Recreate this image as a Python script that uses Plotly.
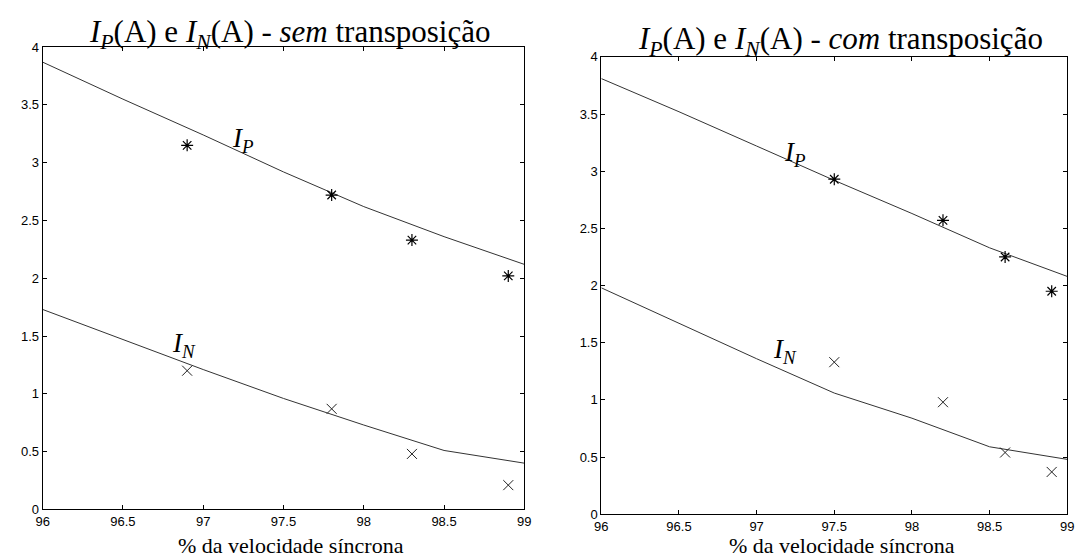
import plotly.graph_objects as go

# ---- data ----
x_line = [96, 96.5, 97, 97.5, 98, 98.5, 99]
left_ip_line = [3.87, 3.55, 3.24, 2.92, 2.62, 2.36, 2.12]
left_in_line = [1.73, 1.47, 1.21, 0.96, 0.73, 0.51, 0.40]
left_marks_x = [96.9, 97.8, 98.3, 98.9]
left_ip_marks = [3.15, 2.72, 2.33, 2.02]
left_in_marks = [1.20, 0.87, 0.48, 0.21]

right_ip_line = [3.81, 3.52, 3.22, 2.92, 2.63, 2.33, 2.08]
right_in_line = [1.98, 1.67, 1.36, 1.06, 0.84, 0.59, 0.48]
right_marks_x = [97.5, 98.2, 98.6, 98.9]
right_ip_marks = [2.93, 2.57, 2.25, 1.95]
right_in_marks = [1.33, 0.98, 0.54, 0.37]

x_ticks = [96, 96.5, 97, 97.5, 98, 98.5, 99]
x_tick_text = ["96", "96.5", "97", "97.5", "98", "98.5", "99"]
y_ticks = [0, 0.5, 1, 1.5, 2, 2.5, 3, 3.5, 4]
y_tick_text = ["0", "0.5", "1", "1.5", "2", "2.5", "3", "3.5", "4"]

titles = ["<i>I<sub>P</sub></i>(A) e <i>I<sub>N</sub></i>(A) - <i>sem</i> transposição",
          "<i>I<sub>P</sub></i>(A) e <i>I<sub>N</sub></i>(A) - <i>com</i> transposição"]
xlabel = "% da velocidade síncrona"

W, H = 1084, 560
SERIF = "Liberation Serif, Times New Roman, serif"
SANS = "Liberation Sans, Arial, sans-serif"
LINE_COL = "#333333"

fig = go.Figure()

panels = [
    dict(xa="x", ya="y", ip_line=left_ip_line, in_line=left_in_line, mx=left_marks_x,
         ip_m=left_ip_marks, in_m=left_in_marks),
    dict(xa="x2", ya="y2", ip_line=right_ip_line, in_line=right_in_line, mx=right_marks_x,
         ip_m=right_ip_marks, in_m=right_in_marks),
]

for p in panels:
    fig.add_trace(go.Scatter(x=x_line, y=p["ip_line"], mode="lines", xaxis=p["xa"], yaxis=p["ya"],
                             line=dict(color=LINE_COL, width=1), showlegend=False, hoverinfo="skip"))
    fig.add_trace(go.Scatter(x=x_line, y=p["in_line"], mode="lines", xaxis=p["xa"], yaxis=p["ya"],
                             line=dict(color=LINE_COL, width=1), showlegend=False, hoverinfo="skip"))
    fig.add_trace(go.Scatter(x=p["mx"], y=p["ip_m"], mode="markers", xaxis=p["xa"], yaxis=p["ya"],
                             marker=dict(symbol="asterisk-open", size=10, color="black",
                                         line=dict(color="black", width=1.2)),
                             showlegend=False))
    fig.add_trace(go.Scatter(x=p["mx"], y=p["in_m"], mode="markers", xaxis=p["xa"], yaxis=p["ya"],
                             marker=dict(symbol="x-thin-open", size=10, color="#222222",
                                         line=dict(color="#222222", width=1)),
                             showlegend=False))

# domains (pixel-based)
L = dict(x0=28, x1=516, y0=33, y1=508)
R = dict(x0=594, x1=1066, y0=43, y1=513)

def dom_x(d):
    return [d["x0"] / W, d["x1"] / W]

def dom_y(d):
    return [1 - d["y1"] / H, 1 - d["y0"] / H]

axis_common = dict(showgrid=False, zeroline=False, showline=True, linecolor="black", linewidth=1,
                   mirror="allticks", ticks="inside", ticklen=4, tickcolor="black",
                   tickfont=dict(family=SANS, size=13, color="black"))

fig.update_layout(
    width=W, height=H, margin=dict(l=0, r=0, t=0, b=0),
    paper_bgcolor="white", plot_bgcolor="white",
    xaxis=dict(domain=dom_x(L), range=[96, 99], tickvals=x_ticks, ticktext=x_tick_text,
               anchor="y", **axis_common),
    yaxis=dict(domain=dom_y(L), range=[0, 4], tickvals=y_ticks, ticktext=y_tick_text,
               anchor="x", **axis_common),
    xaxis2=dict(domain=dom_x(R), range=[96, 99], tickvals=x_ticks, ticktext=x_tick_text,
                anchor="y2", **axis_common),
    yaxis2=dict(domain=dom_y(R), range=[0, 4], tickvals=y_ticks, ticktext=y_tick_text,
                anchor="x2", **axis_common),
)

annotations = []
for d, t, cy in [(L, titles[0], 20), (R, titles[1], 27)]:
    annotations.append(dict(text=t, xref="paper", yref="paper",
                            x=(d["x0"] + d["x1"]) / 2 / W + 6 / W, y=1 - cy / H,
                            xanchor="center", yanchor="middle", showarrow=False,
                            font=dict(family=SERIF, size=31, color="black")))
for d in (L, R):
    annotations.append(dict(text=xlabel, xref="paper", yref="paper",
                            x=(d["x0"] + d["x1"]) / 2 / W + 8 / W, y=0,
                            xanchor="center", yanchor="bottom", showarrow=False,
                            font=dict(family=SERIF, size=22, color="black")))

curve_labels = [
    ("x", "y", 97.25, 3.2, "<i>I<sub>P</sub></i>"),
    ("x", "y", 96.88, 1.42, "<i>I<sub>N</sub></i>"),
    ("x2", "y2", 97.25, 3.15, "<i>I<sub>P</sub></i>"),
    ("x2", "y2", 97.18, 1.43, "<i>I<sub>N</sub></i>"),
]
for xa, ya, xv, yv, t in curve_labels:
    annotations.append(dict(text=t, xref=xa, yref=ya, x=xv, y=yv, showarrow=False,
                            xanchor="center", yanchor="middle",
                            font=dict(family=SERIF, size=27, color="black")))

fig.update_layout(annotations=annotations)
fig.write_html("out.html")
